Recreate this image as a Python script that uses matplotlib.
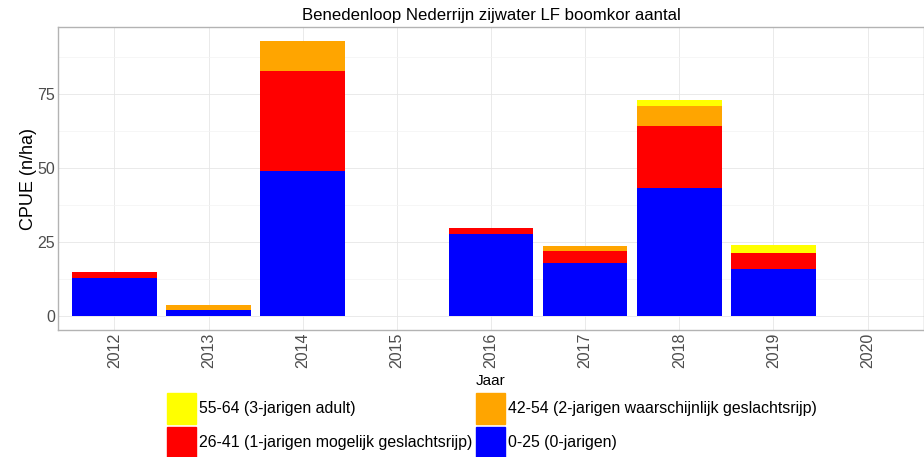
import numpy as np
import matplotlib
matplotlib.use('Agg')
import matplotlib.pyplot as plt
from matplotlib.patches import Patch

plt.rcParams['font.family'] = ['Liberation Sans', 'DejaVu Sans']

years = [2012, 2013, 2014, 2015, 2016, 2017, 2018, 2019, 2020]
# CPUE per lengteklasse (n/ha)
blue = [13.0, 2.0, 48.8, 0, 27.6, 18.0, 43.3, 16.0, 0]    # 0-25
red = [2.0, 0, 33.9, 0, 2.0, 3.9, 20.8, 5.2, 0]          # 26-41
orange = [0, 1.8, 10.1, 0, 0, 1.8, 6.6, 0, 0]            # 42-54
yellow = [0, 0, 0, 0, 0, 0, 2.3, 2.7, 0]                 # 55-64

labels = ['0-25 (0-jarigen)',
          '26-41 (1-jarigen mogelijk geslachtsrijp)',
          '42-54 (2-jarigen waarschijnlijk geslachtsrijp)',
          '55-64 (3-jarigen adult)']
colors = ['#0000ff', '#ff0000', '#ffa500', '#ffff00']

fig = plt.figure(figsize=(9.24, 4.57), dpi=100)
ax = fig.add_axes([58 / 924, 1 - 330 / 457, 866 / 924, 303 / 457])

x = np.arange(len(years))
bottom = np.zeros(len(years))
for vals, c in zip([blue, red, orange, yellow], colors):
    vals = np.array(vals)
    ax.bar(x, vals, width=0.9, bottom=bottom, color=c, linewidth=0, zorder=3)
    bottom += vals

ymax = bottom.max()
ax.set_ylim(-0.05 * ymax, 1.05 * ymax)
ax.set_xlim(-0.6, len(years) - 1 + 0.6)

ax.set_yticks([0, 25, 50, 75])
ax.set_yticks([12.5, 37.5, 62.5, 87.5], minor=True)
ax.set_xticks(x)
ax.set_xticklabels([str(y) for y in years], rotation=90)
ax.tick_params(axis='both', which='major', length=0, pad=2,
               labelcolor='#4d4d4d', labelsize=11.5)
ax.tick_params(axis='y', which='minor', length=0)

ax.grid(True, which='major', color='#e6e6e6', linewidth=0.6, zorder=0)
ax.grid(True, which='minor', axis='y', color='#f3f3f3', linewidth=0.5, zorder=0)
for s in ax.spines.values():
    s.set_color('#b3b3b3')
    s.set_linewidth(1.0)

ax.set_title('Benedenloop Nederrijn zijwater LF boomkor aantal', fontsize=12.1, pad=5)
ax.set_ylabel('CPUE (n/ha)', fontsize=13, labelpad=0.5)
ax.set_xlabel('Jaar', fontsize=11, labelpad=4)

# legend keys: matplotlib shrinks patch height, so handleheight is set higher
handles = [Patch(color=colors[3], label=labels[3]),
           Patch(color=colors[1], label=labels[1]),
           Patch(color=colors[2], label=labels[2]),
           Patch(color=colors[0], label=labels[0])]
fig.legend(handles=handles, ncol=2, loc='upper left',
           bbox_to_anchor=(167 / 924, 1 - 393 / 457), frameon=False,
           fontsize=11.4, handlelength=1.83, handleheight=2.63,
           labelspacing=0.19, handletextpad=0.2, columnspacing=0.2,
           borderpad=0, borderaxespad=0)

fig.savefig('out.png', dpi=100)
